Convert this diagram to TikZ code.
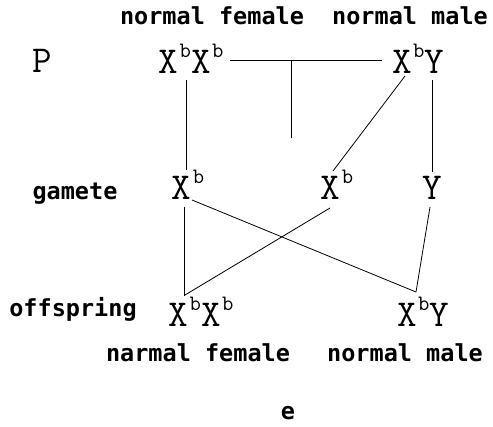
\documentclass[tikz,border=0pt]{standalone}
\usepackage{fontspec}
\newfontfamily\labelfont{DejaVu Sans Mono}
\usetikzlibrary{calc}
% X染色体（上付きのb）
\newcommand\Xb{X\kern1.5pt\raisebox{16pt}{\fontsize{22}{22}\selectfont b}}

\begin{document}
\begin{tikzpicture}
[
x=1pt, y=-1pt,
% 文字の位置はベースラインで合わせる
every node/.style={inner sep=0, outer sep=0, anchor=base},
% 遺伝子型
gene/.style={font=\ttfamily\fontsize{38}{38}\selectfont},
% 説明の文字
caption/.style={font=\labelfont\bfseries\fontsize{23.5}{24}\selectfont},
% 線
link/.style={line width=0.8pt}
]
\useasboundingbox (0,0) rectangle (493,427);

% 親
\node [gene] (P) at (42,73) {P};
\node [gene] (mother) at (191,74) {\Xb\Xb};
\node [gene] (father) at (418,74) {\Xb Y};
\node [caption] (mlabel) at (212,25) {normal female};
\node [caption] (flabel) at (410,25) {normal male};

% 配偶子
\node [caption] (gamete) at (75,200) {gamete};
\node [gene] (g1) at (188,200) {\Xb};
\node [gene] (g2) at (337,200) {\Xb};
\node [gene] (g3) at (432,200) {Y};

% 子
\node [caption] (offspring) at (73,317) {offspring};
\node [gene] (daughter) at (201,327) {\Xb\Xb};
\node [gene] (son) at (423,327) {\Xb Y};
\node [caption] (dlabel) at (198,362) {narmal female};
\node [caption] (slabel) at (405,362) {normal male};
\node [caption] (e) at (288,420) {e};

% 交配の線
\draw [link] ([shift={(39,-14)}]mother.base) -- ([shift={(-36,-14)}]father.base);
\coordinate (knot) at ([shift={(100,-14)}]mother.base);
\draw [link] (knot) -- ++(0,78);

% 親から配偶子へ
\draw [link] ([shift={(-5,6)}]mother.base) -- ([shift={(-2,-30)}]g1.base);
\draw [link] ([shift={(-13,2)}]father.base) -- ([shift={(-4,-29)}]g2.base);
\draw [link] ([shift={(14,6)}]father.base) -- ([shift={(0,-28)}]g3.base);

% 配偶子から子へ
\draw [link] ([shift={(-4,7)}]g1.base) -- ([shift={(-17,-31)}]daughter.base);
\draw [link] ([shift={(4,0)}]g1.base) -- ([shift={(-7,-35)}]son.base);
\draw [link] ([shift={(-7,8)}]g2.base) -- ([shift={(-16,-32)}]daughter.base);
\draw [link] ([shift={(-2,7)}]g3.base) -- ([shift={(-7,-35)}]son.base);
\end{tikzpicture}
\end{document}
